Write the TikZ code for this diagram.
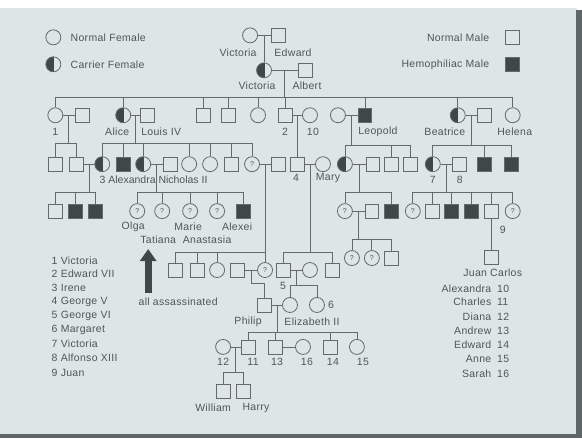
\documentclass[tikz,border=0pt]{standalone}
\usepackage{fontspec}
\setmainfont[LetterSpace=3]{Liberation Sans}
\usepackage{xcolor}
\usepackage{tikz}
\usetikzlibrary{arrows.meta, calc}

\definecolor{panelc}{RGB}{221,229,231}
\definecolor{shadec}{RGB}{95,102,102}
\definecolor{linec}{RGB}{100,106,106}
\definecolor{fillc}{RGB}{62,72,72}
\definecolor{txtc}{RGB}{80,86,86}

\begin{document}
\begin{tikzpicture}[
  x=1pt, y=-1pt,
  every path/.style={draw=linec, line width=0.8pt},
  male/.style={rectangle, draw=linec, line width=0.8pt, minimum size=14pt, inner sep=0pt},
  hemo/.style={male, fill=fillc},
  female/.style={circle, draw=linec, line width=0.8pt, minimum size=15pt, inner sep=0pt},
  carrier/.style={female, path picture={\fill[fillc] (path picture bounding box.north west) rectangle (path picture bounding box.south);}},
  unk/.style={female, text=txtc, font=\fontsize{7}{7}\selectfont},
  txt/.style={text=txtc, inner sep=0pt, font=\fontsize{10.5}{12}\selectfont}
]
\useasboundingbox (0,0) rectangle (582,438);
\fill[white] (0,0) rectangle (582,438);
\fill[panelc] (0,8) rectangle (577,435);
\fill[shadec] (577,10) rectangle (582,438);
\fill[shadec] (0,435) rectangle (582,438);

% legend
\node[female] (keyF) at (53,37) {};
\node[txt, anchor=west] (keyFt) at (70,37) {Normal Female};
\node[carrier] (keyC) at (53,64) {};
\node[txt, anchor=west] (keyCt) at (70,64) {Carrier Female};
\node[male] (keyM) at (513,37) {};
\node[txt, anchor=east] (keyMt) at (490,37) {Normal Male};
\node[hemo] (keyH) at (513,64) {};
\node[txt, anchor=east] (keyHt) at (490,64) {Hemophiliac Male};

% generation 1 and 2
\node[female] (vicA) at (250,35) {};
\node[male] (edwA) at (278,35) {};
\node[carrier] (vicB) at (264,70) {};
\node[male] (albert) at (305,70) {};
\node[txt] (lVicA) at (238,52) {Victoria};
\node[txt] (lEdwA) at (293,52) {Edward};
\node[txt] (lVicB) at (257,85) {Victoria};
\node[txt] (lAlbert) at (307,85) {Albert};

% generation 3
\node[female] (vic1) at (55,115) {};
\node[male] (hus1) at (82,115) {};
\node[carrier] (alice) at (123,115) {};
\node[male] (louis) at (147,115) {};
\node[male] (ch3) at (203,115) {};
\node[male] (ch4) at (228,115) {};
\node[female] (ch5) at (258,115) {};
\node[male] (edw7) at (285,115) {};
\node[female] (alexa) at (310,115) {};
\node[female] (leowife) at (338,115) {};
\node[hemo] (leopold) at (365,115) {};
\node[carrier] (beatrice) at (458,115) {};
\node[male] (henry) at (485,115) {};
\node[female] (helena) at (513,115) {};
\node[txt] (l1) at (55,132) {1};
\node[txt] (lAlice) at (117,132) {Alice};
\node[txt] (lLouis) at (161,132) {Louis IV};
\node[txt] (l2) at (285,132) {2};
\node[txt] (l10) at (313,132) {10};
\node[txt] (lLeopold) at (378,132) {Leopold};
\node[txt] (lBeatrice) at (445,132) {Beatrice};
\node[txt] (lHelena) at (515,132) {Helena};

% generation 4
\node[male] (g4a) at (55,164) {};
\node[male] (g4b) at (76,164) {};
\node[carrier] (irene) at (102,164) {};
\node[hemo] (frit) at (123,164) {};
\node[carrier] (alexandra) at (143,164) {};
\node[male] (nicholas) at (170,164) {};
\node[female] (g4c) at (189,164) {};
\node[female] (g4d) at (210,164) {};
\node[male] (g4e) at (231,164) {};
\node[unk] (victq) at (252,164) {?};
\node[male] (g4hus) at (278,164) {};
\node[male] (george5) at (297.5,164) {};
\node[female] (mary) at (323,164) {};
\node[carrier] (alicec) at (345,164) {};
\node[male] (alicehus) at (373,164) {};
\node[male] (leoson1) at (392,164) {};
\node[male] (leoson2) at (411,164) {};
\node[carrier] (vic7) at (433,164) {};
\node[male] (alf8) at (460,164) {};
\node[hemo] (leo) at (485,164) {};
\node[hemo] (maur) at (512,164) {};
\node[txt, anchor=west, font=\fontsize{10.5}{12}\addfontfeature{LetterSpace=0}] (lAlexandra) at (99,180) {3 Alexandra Nicholas II};
\node[txt] (l4) at (296,178) {4};
\node[txt] (lMary) at (328,178) {Mary};
\node[txt] (l7) at (433,180) {7};
\node[txt] (l8) at (460,180) {8};

% generation 5
\node[male] (h1) at (55,211) {};
\node[hemo] (h2) at (75,211) {};
\node[hemo] (h3) at (95,211) {};
\node[unk] (olga) at (137,211) {?};
\node[unk] (tatiana) at (162,211) {?};
\node[unk] (marie) at (190,211) {?};
\node[unk] (anastasia) at (217,211) {?};
\node[hemo] (alexei) at (243,211) {};
\node[unk] (lq) at (345,211) {?};
\node[male] (lqhus) at (372,211) {};
\node[hemo] (lhemo) at (392,211) {};
\node[unk] (bq1) at (413,211) {?};
\node[male] (b2) at (433,211) {};
\node[hemo] (b3) at (452,211) {};
\node[hemo] (b4) at (472,211) {};
\node[male] (juan) at (492,211) {};
\node[unk] (bq2) at (513,211) {?};
\node[txt] (lOlga) at (133,227) {Olga};
\node[txt] (lMarie) at (188,227) {Marie};
\node[txt] (lAlexei) at (237,227) {Alexei};
\node[txt] (lTatiana) at (158,240) {Tatiana};
\node[txt] (lAnastasia) at (207,240) {Anastasia};
\node[txt] (l9) at (503,230) {9};

% generation 6
\node[male] (k1) at (175,270) {};
\node[male] (k2) at (197,270) {};
\node[female] (k3) at (217,270) {};
\node[male] (andrewg) at (237,270) {};
\node[unk] (alicep) at (265,270) {?};
\node[male] (george6) at (283,270) {};
\node[female] (qmum) at (310,270) {};
\node[male] (g6b) at (332,270) {};
\node[unk] (lg1) at (352,258) {?};
\node[unk] (lg2) at (372,258) {?};
\node[male] (lg3) at (392,258) {};
\node[male] (juancarlos) at (492,257) {};
\node[txt] (lJuanCarlos) at (493,273) {Juan Carlos};
\node[txt] (l5) at (283,286) {5};

% generation 7
\node[male] (philip) at (264,305) {};
\node[female] (eliz) at (290,305) {};
\node[female] (margaret) at (317,305) {};
\node[txt] (l6) at (331,305) {6};
\node[txt] (lPhilip) at (248,322) {Philip};
\node[txt] (lEliz) at (312,322) {Elizabeth II};

% generation 8 and 9
\node[female] (diana) at (223,347) {};
\node[male] (charles) at (248,347) {};
\node[male] (andrew) at (275,347) {};
\node[female] (sarah) at (303,347) {};
\node[male] (edward) at (330,347) {};
\node[female] (anne) at (357,347) {};
\node[txt] (l12) at (223,362) {12};
\node[txt] (l11) at (253,362) {11};
\node[txt] (l13) at (277,362) {13};
\node[txt] (l16) at (307,362) {16};
\node[txt] (l14) at (333,362) {14};
\node[txt] (l15) at (363,362) {15};
\node[male] (william) at (223,392) {};
\node[male] (harry) at (243,392) {};
\node[txt] (lWilliam) at (213,408) {William};
\node[txt] (lHarry) at (256,408) {Harry};

% assassination arrow
\coordinate (arrbot) at (148,293);
\coordinate (arrtop) at (148,249);
\draw[draw=fillc, line width=7pt, -{Triangle[length=12pt, width=16pt]}] (arrbot) -- (arrtop);
\node[txt] (lAssass) at (178,302) {all assassinated};

% numbered keys
\node[txt, anchor=west] (k1t) at (51,261) {1 Victoria};
\node[txt, anchor=west] (k2t) at (51,274) {2 Edward VII};
\node[txt, anchor=west] (k3t) at (51,288) {3 Irene};
\node[txt, anchor=west] (k4t) at (51,302) {4 George V};
\node[txt, anchor=west] (k5t) at (51,316) {5 George VI};
\node[txt, anchor=west] (k6t) at (51,330) {6 Margaret};
\node[txt, anchor=west] (k7t) at (51,344) {7 Victoria};
\node[txt, anchor=west] (k8t) at (51,358) {8 Alfonso XIII};
\node[txt, anchor=west] (k9t) at (51,373) {9 Juan};
\node[txt, anchor=east] (n10t) at (492,289) {Alexandra};
\node[txt, anchor=west] (n10) at (497,289) {10};
\node[txt, anchor=east] (n11t) at (492,302) {Charles};
\node[txt, anchor=west] (n11) at (497,302) {11};
\node[txt, anchor=east] (n12t) at (492,317) {Diana};
\node[txt, anchor=west] (n12) at (497,317) {12};
\node[txt, anchor=east] (n13t) at (492,331) {Andrew};
\node[txt, anchor=west] (n13) at (497,331) {13};
\node[txt, anchor=east] (n14t) at (492,345) {Edward};
\node[txt, anchor=west] (n14) at (497,345) {14};
\node[txt, anchor=east] (n15t) at (492,359) {Anne};
\node[txt, anchor=west] (n15) at (497,359) {15};
\node[txt, anchor=east] (n16t) at (492,374) {Sarah};
\node[txt, anchor=west] (n16) at (497,374) {16};

% marriages
\draw (vicA) -- (edwA);
\draw (vicB) -- (albert);
\draw (vic1) -- (hus1);
\draw (alice) -- (louis);
\draw (edw7) -- (alexa);
\draw (leowife) -- (leopold);
\draw (beatrice) -- (henry);
\draw (g4b) -- (irene);
\draw (alexandra) -- (nicholas);
\draw (victq) -- (g4hus);
\draw (george5) -- (mary);
\draw (alicec) -- (alicehus);
\draw (vic7) -- (alf8);
\draw (lq) -- (lqhus);
\draw (andrewg) -- (alicep);
\draw (george6) -- (qmum);
\draw (philip) -- (eliz);
\draw (diana) -- (charles);
\draw (andrew) -- (sarah);

% descent points
\coordinate (m0) at ($(vicA)!.5!(edwA)$);
\coordinate (m1) at ($(vicB)!.5!(albert)$);
\coordinate (m2) at ($(vic1)!.5!(hus1)$);
\coordinate (m3) at ($(alice)!.5!(louis)$);
\coordinate (m4) at ($(edw7)!.5!(alexa)$);
\coordinate (m5) at ($(leowife)!.5!(leopold)$);
\coordinate (m6) at ($(beatrice)!.5!(henry)$);
\coordinate (m7) at ($(g4b)!.5!(irene)$);
\coordinate (m8) at ($(alexandra)!.5!(nicholas)$);
\coordinate (m9) at ($(victq)!.5!(g4hus)$);
\coordinate (m10) at ($(george5)!.5!(mary)$);
\coordinate (m11) at ($(alicec)!.5!(alicehus)$);
\coordinate (m12) at ($(vic7)!.5!(alf8)$);
\coordinate (m13) at ($(lq)!.5!(lqhus)$);
\coordinate (m14) at ($(andrewg)!.5!(alicep)$);
\coordinate (m15) at ($(george6)!.5!(qmum)$);
\coordinate (m16) at ($(philip)!.5!(eliz)$);
\coordinate (m17) at ($(diana)!.5!(charles)$);

\coordinate (b1) at ($(m1)+(0,27)$);
\coordinate (b2c) at ($(m2)+(0,28)$);
\coordinate (b3c) at ($(m3)+(0,28)$);
\coordinate (b5) at ($(m5)+(0,30)$);
\coordinate (b6) at ($(m6)+(0,30)$);
\coordinate (b7) at ($(m7)+(0,28)$);
\coordinate (b8) at ($(m8)+(0,28)$);
\coordinate (b9) at ($(m9)+(0,88)$);
\coordinate (b10) at ($(m10)+(0,88)$);
\coordinate (b11) at ($(m11)+(0,28)$);
\coordinate (b12) at ($(m12)+(0,28)$);
\coordinate (b13) at ($(m13)+(0,28)$);
\coordinate (b14) at ($(m14)+(0,13)$);
\coordinate (b15) at ($(m15)+(0,15)$);
\coordinate (b16) at ($(m16)+(0,27)$);
\coordinate (b17) at ($(m17)+(0,26)$);

% descent lines
\draw (m0) -- (vicB);
\draw (m4) -- (george5);
\draw (juan) -- (juancarlos);
\draw (m1) -- (b1);
\draw (m2) -- (b2c);
\draw (m3) -- (b3c);
\draw (m5) -- (b5);
\draw (m6) -- (b6);
\draw (m7) -- (b7);
\draw (m8) -- (b8);
\draw (m9) -- (b9);
\draw (m10) -- (b10);
\draw (m11) -- (b11);
\draw (m12) -- (b12);
\draw (m13) -- (b13);
\draw (m14) -- (b14);
\draw (m15) -- (b15);
\draw (m16) -- (b16);
\draw (m17) -- (b17);

% children of Victoria and Albert
\draw (b1) -| (vic1);
\draw (b1) -| (alice);
\draw (b1) -| (ch3);
\draw (b1) -| (ch4);
\draw (b1) -| (ch5);
\draw (b1) -| (edw7);
\draw (b1) -| (leopold);
\draw (b1) -| (beatrice);
\draw (b1) -| (helena);

% grandchildren
\draw (b2c) -| (g4a);
\draw (b2c) -| (g4b);
\draw (b3c) -| (irene);
\draw (b3c) -| (frit);
\draw (b3c) -| (alexandra);
\draw (b3c) -| (g4c);
\draw (b3c) -| (g4d);
\draw (b3c) -| (g4e);
\draw (b3c) -| (victq);
\draw (b5) -| (alicec);
\draw (b5) -| (leoson1);
\draw (b5) -| (leoson2);
\draw (b6) -| (vic7);
\draw (b6) -| (leo);
\draw (b6) -| (maur);

% great-grandchildren
\draw (b7) -| (h1);
\draw (b7) -| (h2);
\draw (b7) -| (h3);
\draw (b8) -| (olga);
\draw (b8) -| (tatiana);
\draw (b8) -| (marie);
\draw (b8) -| (anastasia);
\draw (b8) -| (alexei);
\draw (b11) -| (lq);
\draw (b11) -| (lhemo);
\draw (b12) -| (bq1);
\draw (b12) -| (b2);
\draw (b12) -| (b3);
\draw (b12) -| (b4);
\draw (b12) -| (juan);
\draw (b12) -| (bq2);
\draw (b9) -| (k1);
\draw (b9) -| (k2);
\draw (b9) -| (k3);
\draw (b9) -| (alicep);
\draw (b10) -| (george6);
\draw (b10) -| (g6b);
\draw (b13) -| (lg1);
\draw (b13) -| (lg2);
\draw (b13) -| (lg3);

% Windsors
\draw (b14) -| (philip);
\draw (b15) -| (eliz);
\draw (b15) -| (margaret);
\draw (b16) -| (charles);
\draw (b16) -| (andrew);
\draw (b16) -| (edward);
\draw (b16) -| (anne);
\draw (b17) -| (william);
\draw (b17) -| (harry);
\end{tikzpicture}
\end{document}
